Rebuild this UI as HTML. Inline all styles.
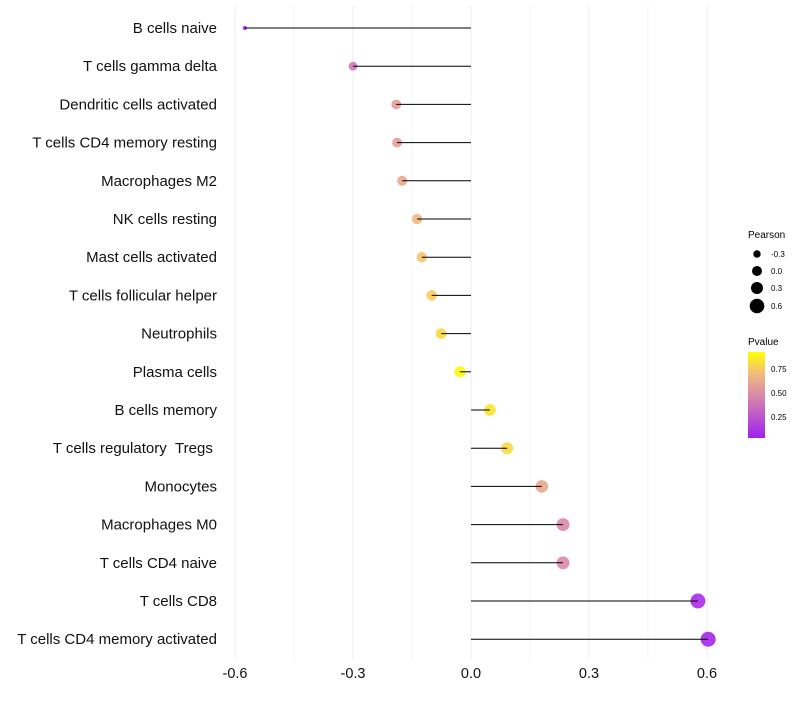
<!DOCTYPE html>
<html><head><meta charset="utf-8"><style>
body{margin:0;background:#fff;}
svg text{font-family:"Liberation Sans",sans-serif;}
</style></head><body>
<svg id="chart" width="800" height="700">
<defs><linearGradient id="pg" x1="0" y1="1" x2="0" y2="0">
<stop offset="0" stop-color="#A020F0"/><stop offset="0.5" stop-color="#D98AA8"/><stop offset="0.75" stop-color="#F2BC7C"/><stop offset="1" stop-color="#FFFF00"/></linearGradient></defs>
<g id="grid"></g><g id="marks"></g><g id="labels"></g><g id="xaxis"></g>
<g font-size="9">
<text x="748" y="238" font-size="10">Pearson</text>
<circle cx="757" cy="254" r="3.7" fill="#000"/><text x="771" y="257" font-size="8">-0.3</text>
<circle cx="757" cy="271" r="5" fill="#000"/><text x="771" y="274" font-size="8">0.0</text>
<circle cx="757" cy="288" r="6" fill="#000"/><text x="771" y="291" font-size="8">0.3</text>
<circle cx="757" cy="306" r="7.3" fill="#000"/><text x="771" y="309" font-size="8">0.6</text>
<text x="748" y="345" font-size="10">Pvalue</text>
<rect x="748" y="352" width="17" height="86" fill="url(#pg)"/>
<text x="771" y="372" font-size="8">0.75</text><text x="771" y="396" font-size="8">0.50</text><text x="771" y="420" font-size="8">0.25</text>
</g>
</svg>
<script>
const categories=["B cells naive","T cells gamma delta","Dendritic cells activated","T cells CD4 memory resting","Macrophages M2","NK cells resting","Mast cells activated","T cells follicular helper","Neutrophils","Plasma cells","B cells memory","T cells regulatory\u00a0\u00a0Tregs\u00a0","Monocytes","Macrophages M0","T cells CD4 naive","T cells CD8","T cells CD4 memory activated"];
const pearson=[-0.575,-0.30,-0.19,-0.188,-0.175,-0.137,-0.125,-0.10,-0.076,-0.028,0.048,0.092,0.18,0.234,0.234,0.577,0.603];
const pvalues=[0.03,0.4,0.6,0.6,0.65,0.72,0.78,0.82,0.86,0.97,0.9,0.86,0.65,0.5,0.5,0.05,0.03];
const xticks=[-0.6,-0.3,0.0,0.3,0.6];
const NS="http://www.w3.org/2000/svg";
const xs=v=>471+v*393.3;
const ys=i=>28+i*38.2;
function col(p){const st=[[0,[160,32,240]],[0.5,[217,138,168]],[0.75,[242,188,124]],[1,[255,255,0]]];
for(let k=1;k<st.length;k++){if(p<=st[k][0]){const a=st[k-1],b=st[k],t=(p-a[0])/(b[0]-a[0]);return `rgb(${a[1].map((c,j)=>Math.round(c+(b[1][j]-c)*t)).join(',')})`;}}return "rgb(255,255,0)";}
function mk(tag,at,parent){const e=document.createElementNS(NS,tag);for(const k in at)e.setAttribute(k,at[k]);document.getElementById(parent).appendChild(e);return e;}
for(let v=-0.6;v<=0.601;v+=0.15){const g=mk("line",{x1:xs(v),x2:xs(v),y1:5,y2:660,stroke:"#ececec","stroke-width":Math.abs(Math.round(v/0.15))%2===0?1:0.6},"grid");

}
xticks.forEach(t=>{const e=mk("text",{x:xs(t),y:678,"text-anchor":"middle","font-size":14.5,fill:"#111"},"xaxis");e.textContent=t.toFixed(1);

});
categories.forEach((c,i)=>{
const y=ys(i),p=pearson[i];
const r=1.3+Math.sqrt(Math.max(p+0.6,0)/1.2)*6.2;
const dot=mk("circle",{cx:xs(p),cy:y,r:r,fill:col(pvalues[i]),"fill-opacity":0.9},"marks");


const ln=mk("line",{x1:xs(0),x2:xs(p),y1:y,y2:y,stroke:"#000","stroke-width":1},"marks");


const t=mk("text",{x:217,y:y+5,"text-anchor":"end","font-size":15,fill:"#111"},"labels");t.textContent=c;


});
</script>
</body></html>
